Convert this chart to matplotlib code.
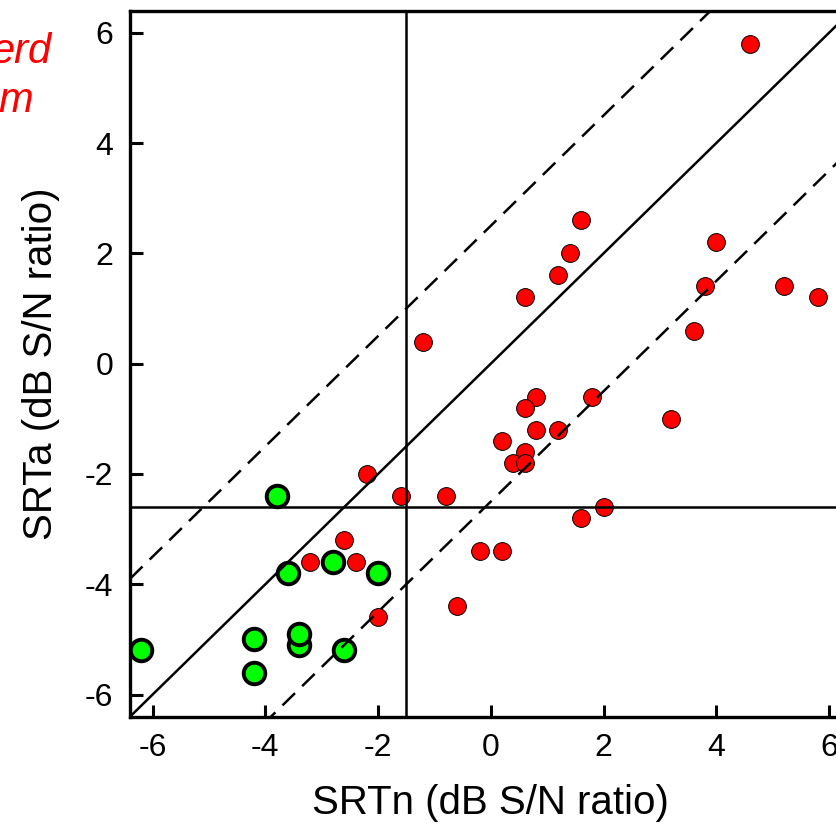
import matplotlib.pyplot as plt

plt.rcParams['font.family'] = ['Liberation Sans', 'DejaVu Sans']

# SRT in noise (x) vs SRT in adaptive condition (y), dB S/N
red_x = [4.6, 1.6, 1.4, 1.2, 0.6, 4.0, 3.8, 5.2, 5.8, 3.6, -1.2,
         0.8, 0.6, 1.8, 3.2, 0.8, 1.2, 0.2, 0.6, 0.4, 0.6,
         -1.6, -0.8, 1.6, 2.0, -2.2, -2.6, -3.2, -2.4, -2.0,
         -0.2, 0.2, -0.6]
red_y = [5.8, 2.6, 2.0, 1.6, 1.2, 2.2, 1.4, 1.4, 1.2, 0.6, 0.4,
         -0.6, -0.8, -0.6, -1.0, -1.2, -1.2, -1.4, -1.6, -1.8, -1.8,
         -2.4, -2.4, -2.8, -2.6, -2.0, -3.2, -3.6, -3.6, -4.6,
         -3.4, -3.4, -4.4]

green_x = [-6.2, -4.2, -4.2, -3.4, -3.4, -2.6, -3.8, -3.6, -2.8, -2.0]
green_y = [-5.2, -5.0, -5.6, -5.1, -4.9, -5.2, -2.4, -3.8, -3.6, -3.8]

# reference criteria and tolerance band around the diagonal
crit_n = -1.5
crit_a = -2.6
band = 2.5
lim = 6.4
ticks = [-6, -4, -2, 0, 2, 4, 6]

fig = plt.figure(figsize=(8.36, 8.39), dpi=100)
ax = fig.add_axes([0.1555, 0.1458, 0.8632, 0.8415])

ax.scatter(red_x, red_y, s=12.8**2, c='#ff0000', edgecolors='black',
           linewidths=0.7, zorder=2)
ax.scatter(green_x, green_y, s=15.5**2, c='#00ff00', edgecolors='black',
           linewidths=2.8, zorder=2)

lw = 1.8
ax.plot([-lim, lim], [-lim, lim], color='black', lw=lw, zorder=3)
for off in (band, -band):
    ax.plot([-lim, lim], [-lim + off, lim + off], color='black', lw=lw,
            dashes=(7, 4), zorder=3)
ax.axvline(crit_n, color='black', lw=lw, zorder=3)
ax.axhline(crit_a, color='black', lw=lw, zorder=3)

ax.set_xlim(-lim, lim)
ax.set_ylim(-lim, lim)
ax.set_xticks(ticks)
ax.set_yticks(ticks)
ax.set_xticklabels([str(t) for t in ticks])
ax.set_yticklabels([str(t) for t in ticks])
ax.tick_params(direction='in', length=9, width=2.2, labelsize=23, pad=12,
               top=False, right=False)
for sp in ax.spines.values():
    sp.set_linewidth(2.4)

ax.set_xlabel('SRTn (dB S/N ratio)', fontsize=29, labelpad=15)
ax.set_ylabel('SRTa (dB S/N ratio)', fontsize=29, labelpad=18)

fig.text(52 / 836, 1 - 63 / 839, 'erd', color='red', fontsize=30,
         style='italic', ha='right', va='baseline')
fig.text(33 / 836, 1 - 112 / 839, 'm', color='red', fontsize=30,
         style='italic', ha='right', va='baseline')

fig.savefig('out.png', dpi=100)
